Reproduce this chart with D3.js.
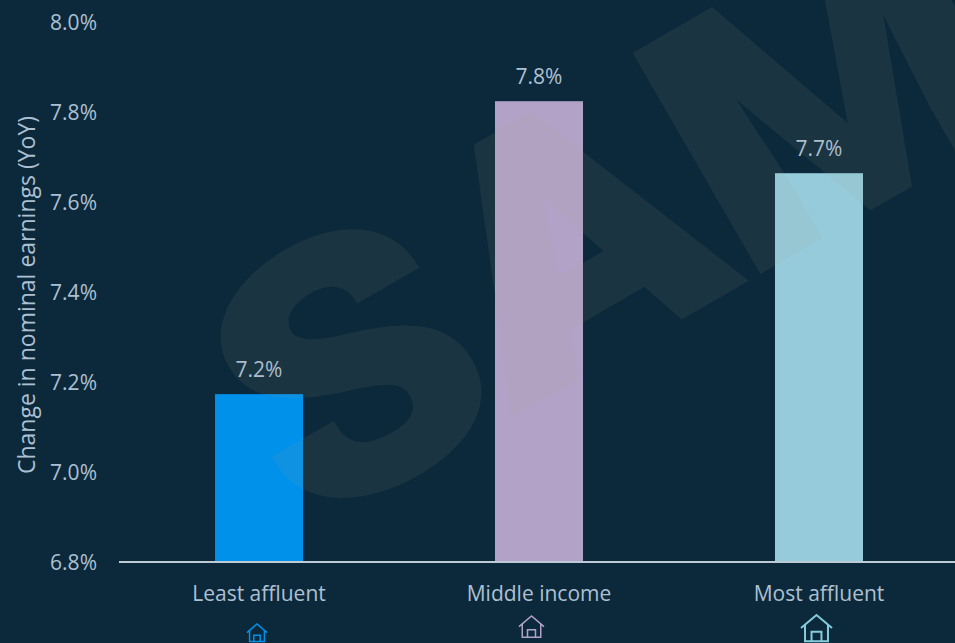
<!DOCTYPE html>
<html>
<head>
<meta charset="utf-8">
<script src="https://cdn.jsdelivr.net/npm/d3@7"></script>
<style>
html,body{margin:0;padding:0;background:#0c293b;overflow:hidden}
text{font-family:"Open Sans","Noto Sans",sans-serif}
</style>
</head>
<body>
<svg id="chart" width="955" height="643"></svg>
<script>
const categories = ["Least affluent", "Middle income", "Most affluent"];
const earningsChange = [7.173, 7.824, 7.664];
const barColors = ["#0091ea", "#b2a2c7", "#96cbdc"];
const yTicks = [6.8, 7.0, 7.2, 7.4, 7.6, 7.8, 8.0];
const yTitle = "Change in nominal earnings (YoY)";
const stampText = "SAMPLE";

const textColor = "#adc0d2";
const svg = d3.select("#chart");
const fmt = d3.format(".1f");

const y = d3.scaleLinear().domain([6.8, 8.0]).range([562, 22]);
const x = d3.scaleBand().domain(categories).range([119, 959]).paddingInner(0.6857).paddingOuter(0.3429);

// y axis: labels only, no line or tick marks
const yAxis = svg.append("g").attr("transform", "translate(97,1)")
  .call(d3.axisLeft(y).tickValues(yTicks).tickSize(0).tickPadding(0).tickFormat(d => fmt(d) + "%"));
yAxis.select(".domain").remove();
yAxis.selectAll("text").attr("fill", textColor).attr("font-size", 21).style("font-family", '"Open Sans"');

svg.append("text")
  .attr("transform", "translate(35,295) rotate(-90)")
  .attr("text-anchor", "middle")
  .attr("fill", textColor).attr("font-size", 23)
  .text(yTitle);

// bars
svg.selectAll("rect.bar").data(categories).join("rect")
  .attr("class", "bar")
  .attr("x", d => x(d))
  .attr("width", x.bandwidth())
  .attr("y", (d, i) => y(earningsChange[i]))
  .attr("height", (d, i) => y(6.8) - y(earningsChange[i]))
  .attr("fill", (d, i) => barColors[i]);

// value labels
svg.selectAll("text.value").data(categories).join("text")
  .attr("class", "value")
  .attr("x", d => x(d) + x.bandwidth() / 2)
  .attr("y", (d, i) => y(earningsChange[i]) - 17)
  .attr("text-anchor", "middle")
  .attr("fill", textColor).attr("font-size", 21)
  .text((d, i) => fmt(earningsChange[i]) + "%");

// baseline
svg.append("line")
  .attr("x1", 119).attr("x2", 955)
  .attr("y1", y(6.8)).attr("y2", y(6.8))
  .attr("stroke", "#bccbd6").attr("stroke-width", 2);

// category labels
svg.selectAll("text.cat").data(categories).join("text")
  .attr("class", "cat")
  .attr("x", d => x(d) + x.bandwidth() / 2)
  .attr("y", 601)
  .attr("text-anchor", "middle")
  .attr("fill", textColor).attr("font-size", 21)
  .text(d => d);

// house icons, drawn on a unit box and stretched into a box per category
const houseBoxes = [
  {cx: 257, top: 624, w: 20, h: 18, stroke: "#0091ea", weight: 1.5},
  {cx: 531.5, top: 616, w: 25, h: 22, stroke: "#b2a2c7", weight: 1.5},
  {cx: 816.5, top: 615, w: 31, h: 27, stroke: "#84cbdb", weight: 2}
];
const housePath = "M0,0.48 L0.5,0 L1,0.48 M0.13,0.38 V0.97 H0.87 V0.38 M0.34,0.97 V0.62 H0.66 V0.97";
svg.selectAll("path.house").data(houseBoxes).join("path")
  .attr("class", "house")
  .attr("d", housePath)
  .attr("transform", d => `translate(${d.cx - d.w / 2},${d.top}) scale(${d.w},${d.h})`)
  .attr("fill", "none")
  .attr("stroke", d => d.stroke)
  .attr("stroke-width", d => d.weight)
  .attr("vector-effect", "non-scaling-stroke");

// translucent diagonal stamp laid over the whole plot
svg.append("text")
  .attr("transform", "translate(305,534) rotate(-30) scale(1.1,1)")
  .attr("font-size", 352)
  .attr("font-weight", 900)
  .style("font-family", 'Roboto')
  .attr("fill", "#b0a48c")
  .attr("stroke", "#b0a48c")
  .attr("stroke-width", 5)
  .attr("stroke-linejoin", "miter")
  .attr("opacity", 0.085)
  .text(stampText);
</script>
</body>
</html>
